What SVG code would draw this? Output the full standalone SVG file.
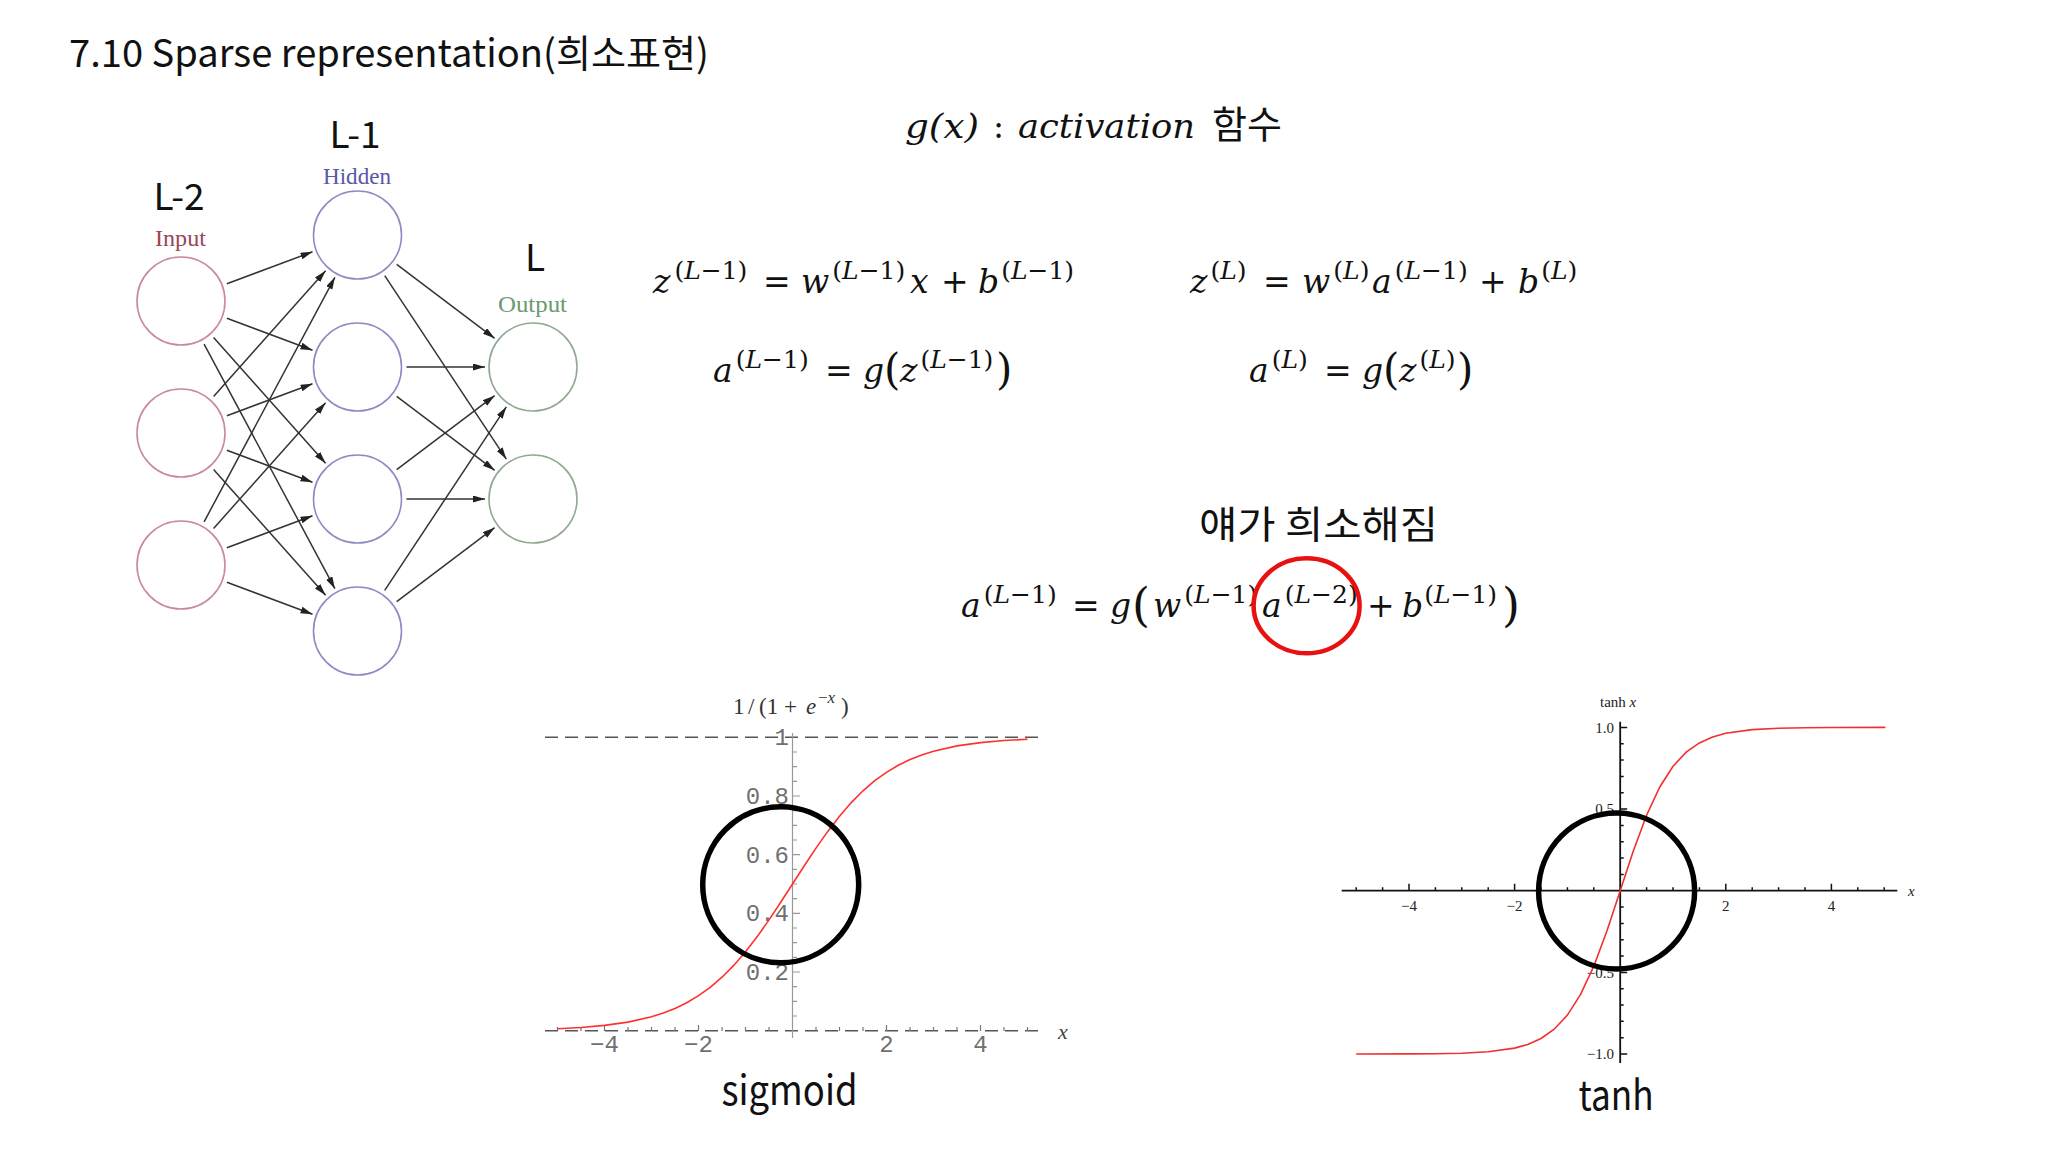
<svg xmlns="http://www.w3.org/2000/svg" width="2048" height="1152" viewBox="0 0 2048 1152">
<defs>
<style>
.sans{font-family:"Noto Sans CJK KR","Noto Sans",sans-serif;fill:#111}
.lbl{font-family:"Liberation Serif","Times New Roman",serif;font-size:23px}
.m{font-family:"DejaVu Serif",serif;font-size:33px;fill:#111}
.i{font-style:italic}
.s{font-size:25px}
.bp{font-size:42px}
.ni{fill:#fff;stroke:#c98a96;stroke-width:1.6}
.nh{fill:#fff;stroke:#8c8cc4;stroke-width:1.6}
.no{fill:#fff;stroke:#90aa90;stroke-width:1.6}
.edge{stroke:#333;stroke-width:1.5;fill:none;marker-end:url(#ah)}
.mono{font-family:"Liberation Mono","DejaVu Sans Mono",monospace;font-size:24px;fill:#707070}
.tl{font-family:"Liberation Serif","Times New Roman",serif;font-size:15px;fill:#222}
.ring{fill:none;stroke:#000;stroke-width:5.5}
</style>
<marker id="ah" markerUnits="userSpaceOnUse" markerWidth="13" markerHeight="8" refX="12" refY="3.5" orient="auto">
<path d="M0,0 L12,3.5 L0,7 z" fill="#222"/>
</marker>
</defs>
<rect width="2048" height="1152" fill="#fff"/>

<text id="title" class="sans" x="69" y="67" font-size="38" textLength="640" lengthAdjust="spacingAndGlyphs">7.10 Sparse representation(희소표현)</text>

<!-- Neural network -->
<g id="layer-labels" class="sans" font-size="37" text-anchor="middle">
<text x="179" y="210">L-2</text>
<text x="355" y="148">L-1</text>
<text x="535" y="271">L</text>
</g>
<text class="lbl" x="180.5" y="245.5" text-anchor="middle" fill="#9a4656" textLength="51" lengthAdjust="spacingAndGlyphs">Input</text>
<text class="lbl" x="357" y="183.5" text-anchor="middle" fill="#5858a8" textLength="68" lengthAdjust="spacingAndGlyphs">Hidden</text>
<text class="lbl" x="532.5" y="311.5" text-anchor="middle" fill="#6a9a70" textLength="69" lengthAdjust="spacingAndGlyphs">Output</text>

<g id="connectors">
<line class="edge" x1="226.9" y1="283.8" x2="312.5" y2="251.8"/>
<line class="edge" x1="226.9" y1="318.2" x2="312.5" y2="350.2"/>
<line class="edge" x1="213.6" y1="337.6" x2="325.6" y2="463.2"/>
<line class="edge" x1="204.1" y1="344.2" x2="334.9" y2="588.7"/>
<line class="edge" x1="213.6" y1="396.4" x2="325.6" y2="270.8"/>
<line class="edge" x1="226.9" y1="415.8" x2="312.5" y2="383.8"/>
<line class="edge" x1="226.9" y1="450.2" x2="312.5" y2="482.2"/>
<line class="edge" x1="213.6" y1="469.6" x2="325.6" y2="595.2"/>
<line class="edge" x1="204.1" y1="521.8" x2="334.9" y2="277.3"/>
<line class="edge" x1="213.6" y1="528.4" x2="325.6" y2="402.8"/>
<line class="edge" x1="226.9" y1="547.8" x2="312.5" y2="515.8"/>
<line class="edge" x1="226.9" y1="582.2" x2="312.5" y2="614.2"/>
<line class="edge" x1="396.7" y1="264.3" x2="494.6" y2="338.3"/>
<line class="edge" x1="384.7" y1="275.7" x2="506.3" y2="459.1"/>
<line class="edge" x1="406.5" y1="367" x2="485" y2="367"/>
<line class="edge" x1="396.7" y1="396.3" x2="494.6" y2="470.3"/>
<line class="edge" x1="396.7" y1="469.7" x2="494.6" y2="395.7"/>
<line class="edge" x1="406.5" y1="499" x2="485" y2="499"/>
<line class="edge" x1="384.7" y1="590.3" x2="506.3" y2="406.9"/>
<line class="edge" x1="396.7" y1="601.7" x2="494.6" y2="527.7"/>
</g>

<g id="input-1"><circle class="ni" cx="181" cy="301" r="44"/></g>
<g id="input-2"><circle class="ni" cx="181" cy="433" r="44"/></g>
<g id="input-3"><circle class="ni" cx="181" cy="565" r="44"/></g>
<g id="hidden-1"><circle class="nh" cx="357.5" cy="235" r="44"/></g>
<g id="hidden-2"><circle class="nh" cx="357.5" cy="367" r="44"/></g>
<g id="hidden-3"><circle class="nh" cx="357.5" cy="499" r="44"/></g>
<g id="hidden-4"><circle class="nh" cx="357.5" cy="631" r="44"/></g>
<g id="output-1"><circle class="no" cx="533" cy="367" r="44"/></g>
<g id="output-2"><circle class="no" cx="533" cy="499" r="44"/></g>

<!-- Equations -->
<g id="activation-def">
<text class="m i" x="905" y="138" font-size="35" textLength="74" lengthAdjust="spacingAndGlyphs">g(x)</text>
<text class="m" x="993" y="138" font-size="35">:</text>
<text class="m i" x="1018" y="138" font-size="35" textLength="177" lengthAdjust="spacingAndGlyphs">activation</text>
<text class="sans" x="1212" y="138" font-size="38">함수</text>
</g>

<g id="eq1"><text class="m">
<tspan class="i" x="653" y="293">z</tspan><tspan class="s" dx="4" y="279">(</tspan><tspan class="s i">L</tspan><tspan class="s">−1)</tspan>
<tspan x="763" y="293">=</tspan>
<tspan class="i" x="801" y="293">w</tspan><tspan class="s" dx="3" y="279">(</tspan><tspan class="s i">L</tspan><tspan class="s">−1)</tspan>
<tspan class="i" x="910" y="293">x</tspan>
<tspan x="941" y="293">+</tspan>
<tspan class="i" x="978" y="293">b</tspan><tspan class="s" dx="2" y="279">(</tspan><tspan class="s i">L</tspan><tspan class="s">−1)</tspan>
</text></g>

<g id="eq2"><text class="m">
<tspan class="i" x="1190" y="293">z</tspan><tspan class="s" dx="3" y="279">(</tspan><tspan class="s i">L</tspan><tspan class="s">)</tspan>
<tspan x="1263" y="293">=</tspan>
<tspan class="i" x="1302" y="293">w</tspan><tspan class="s" dx="3" y="279">(</tspan><tspan class="s i">L</tspan><tspan class="s">)</tspan>
<tspan class="i" x="1372" y="293">a</tspan><tspan class="s" dx="3" y="279">(</tspan><tspan class="s i">L</tspan><tspan class="s">−1)</tspan>
<tspan x="1479" y="293">+</tspan>
<tspan class="i" x="1518" y="293">b</tspan><tspan class="s" dx="2" y="279">(</tspan><tspan class="s i">L</tspan><tspan class="s">)</tspan>
</text></g>

<g id="eq3"><text class="m">
<tspan class="i" x="713" y="381.5">a</tspan><tspan class="s" dx="3" y="367.5">(</tspan><tspan class="s i">L</tspan><tspan class="s">−1)</tspan>
<tspan x="825" y="381.5">=</tspan>
<tspan class="i" x="863" y="381.5">g</tspan><tspan class="bp" x="884" y="383.5">(</tspan>
<tspan class="i" x="900" y="381.5">z</tspan><tspan class="s" dx="3" y="367.5">(</tspan><tspan class="s i">L</tspan><tspan class="s">−1)</tspan>
<tspan class="bp" x="996" y="383.5">)</tspan>
</text></g>

<g id="eq4"><text class="m">
<tspan class="i" x="1249" y="381.5">a</tspan><tspan class="s" dx="3" y="367.5">(</tspan><tspan class="s i">L</tspan><tspan class="s">)</tspan>
<tspan x="1324" y="381.5">=</tspan>
<tspan class="i" x="1362" y="381.5">g</tspan><tspan class="bp" x="1383" y="383.5">(</tspan>
<tspan class="i" x="1399" y="381.5">z</tspan><tspan class="s" dx="3" y="367.5">(</tspan><tspan class="s i">L</tspan><tspan class="s">)</tspan>
<tspan class="bp" x="1457" y="383.5">)</tspan>
</text></g>

<text id="sparse-note" class="sans" x="1199" y="538" font-size="38" textLength="239" lengthAdjust="spacingAndGlyphs">얘가 희소해짐</text>

<g id="eq5"><text class="m">
<tspan class="i" x="961" y="616.5">a</tspan><tspan class="s" dx="3" y="602.5">(</tspan><tspan class="s i">L</tspan><tspan class="s">−1)</tspan>
<tspan x="1072" y="616.5">=</tspan>
<tspan class="i" x="1110" y="616.5">g</tspan><tspan font-size="46" x="1132" y="621">(</tspan>
<tspan class="i" x="1153" y="616.5">w</tspan><tspan class="s" dx="3" y="602.5">(</tspan><tspan class="s i">L</tspan><tspan class="s">−1)</tspan>
<tspan class="i" x="1262" y="616.5">a</tspan><tspan class="s" dx="3" y="602.5">(</tspan><tspan class="s i">L</tspan><tspan class="s">−2)</tspan>
<tspan x="1367" y="616.5">+</tspan>
<tspan class="i" x="1402" y="616.5">b</tspan><tspan class="s" dx="1" y="602.5">(</tspan><tspan class="s i">L</tspan><tspan class="s">−1)</tspan>
<tspan font-size="46" x="1502" y="621">)</tspan>
</text></g>
<ellipse id="red-mark" cx="1306.6" cy="605.8" rx="53" ry="47.5" fill="none" stroke="#e81010" stroke-width="4.5"/>

<!-- Sigmoid plot -->
<g id="sigmoid-plot">
<text font-family="Liberation Serif, serif" font-size="23" fill="#333" y="714"><tspan x="733">1</tspan><tspan x="748">/</tspan><tspan x="759">(1</tspan><tspan x="784">+</tspan><tspan x="806" font-style="italic">e</tspan><tspan x="818" y="703" font-size="17">−<tspan font-style="italic">x</tspan></tspan><tspan x="841" y="714">)</tspan></text>
<line x1="545" y1="737.3" x2="1040" y2="737.3" stroke="#555" stroke-width="1.6" stroke-dasharray="13 7"/>
<line x1="545" y1="1030.7" x2="1040" y2="1030.7" stroke="#555" stroke-width="1.6" stroke-dasharray="13 7"/>
<line x1="792.5" y1="733" x2="792.5" y2="1038" stroke="#999" stroke-width="1.2"/>
<path d="M792.5 1016h4.5M792.5 1001.4h4.5M792.5 986.7h4.5M792.5 972h7.5M792.5 957.4h4.5M792.5 942.7h4.5M792.5 928h4.5M792.5 913.3h7.5M792.5 898.7h4.5M792.5 884h4.5M792.5 869.3h4.5M792.5 854.7h7.5M792.5 840h4.5M792.5 825.3h4.5M792.5 810.7h4.5M792.5 796h7.5M792.5 781.3h4.5M792.5 766.6h4.5M792.5 752h4.5" stroke="#999" stroke-width="1.2"/>
<path d="M557.5 1031v-4M581 1031v-4M604.5 1031v-6M628 1031v-4M651.5 1031v-4M675 1031v-4M698.5 1031v-6M722 1031v-4M745.5 1031v-4M769 1031v-4M816 1031v-4M839.5 1031v-4M863 1031v-4M886.5 1031v-6M910 1031v-4M933.5 1031v-4M957 1031v-4M980.5 1031v-6M1004 1031v-4M1027.5 1031v-4" stroke="#777" stroke-width="1.2"/>
<g class="mono" text-anchor="end">
<text x="789" y="745">1</text>
<text x="789" y="804">0.8</text>
<text x="789" y="862.7">0.6</text>
<text x="789" y="921.4">0.4</text>
<text x="789" y="980">0.2</text>
</g>
<g class="mono" text-anchor="middle">
<text x="604.5" y="1052">−4</text>
<text x="698.5" y="1052">−2</text>
<text x="886.5" y="1052">2</text>
<text x="980.5" y="1052">4</text>
</g>
<text x="1058" y="1039" font-family="Liberation Serif, serif" font-style="italic" font-size="22" fill="#444">x</text>
<polyline fill="none" stroke="#ff3030" stroke-width="1.6" points="557.5,1028.7 581,1027.5 604.5,1025.4 628,1022.1 651.5,1016.8 663.25,1013.1 675,1008.4 686.75,1002.7 698.5,995.7 710.25,987.3 722,977.2 733.75,965.4 745.5,951.8 757.25,936.6 769,919.9 780.75,902.25 792.5,884 804.25,865.75 816,848.1 827.75,831.4 839.5,816.2 851.25,802.6 863,790.8 874.75,780.7 886.5,772.3 898.25,765.3 910,759.6 921.75,754.9 933.5,751.2 957,745.9 980.5,742.6 1004,740.5 1027.5,739.3"/>
<circle class="ring" cx="780.7" cy="884.7" r="78"/>
<text class="sans" x="789.5" y="1105" font-size="41" text-anchor="middle" textLength="136" lengthAdjust="spacingAndGlyphs">sigmoid</text>
</g>

<!-- Tanh plot -->
<g id="tanh-plot">
<text class="tl" x="1600" y="707" font-size="14">tanh <tspan font-style="italic">x</tspan></text>
<line x1="1341.7" y1="890.7" x2="1897.3" y2="890.7" stroke="#111" stroke-width="1.8"/>
<line x1="1620.2" y1="721.7" x2="1620.2" y2="1063" stroke="#111" stroke-width="1.8"/>
<path d="M1620.2 874.4h3.5M1620.2 858h3.5M1620.2 841.7h3.5M1620.2 825.4h3.5M1620.2 809h7M1620.2 792.7h3.5M1620.2 776.4h3.5M1620.2 760.1h3.5M1620.2 743.7h3.5M1620.2 727.4h7M1620.2 907h3.5M1620.2 923.4h3.5M1620.2 939.7h3.5M1620.2 956h3.5M1620.2 972.4h7M1620.2 988.7h3.5M1620.2 1005h3.5M1620.2 1021.3h3.5M1620.2 1037.7h3.5M1620.2 1054h7" stroke="#111" stroke-width="1.5"/>
<path d="M1356.2 890.7v-3.5M1382.6 890.7v-3.5M1409 890.7v-7M1435.4 890.7v-3.5M1461.8 890.7v-3.5M1488.2 890.7v-3.5M1514.6 890.7v-7M1541 890.7v-3.5M1567.4 890.7v-3.5M1593.8 890.7v-3.5M1646.6 890.7v-3.5M1673 890.7v-3.5M1699.4 890.7v-3.5M1725.8 890.7v-7M1752.2 890.7v-3.5M1778.6 890.7v-3.5M1805 890.7v-3.5M1831.4 890.7v-7M1857.8 890.7v-3.5M1884.2 890.7v-3.5" stroke="#111" stroke-width="1.5"/>
<g class="tl" text-anchor="end" fill="#223">
<text x="1614" y="732.5">1.0</text>
<text x="1614" y="814">0.5</text>
<text x="1614" y="977.5">−0.5</text>
<text x="1614" y="1059">−1.0</text>
</g>
<g class="tl" text-anchor="middle">
<text x="1409" y="911">−4</text>
<text x="1514.6" y="911">−2</text>
<text x="1725.8" y="911">2</text>
<text x="1831.4" y="911">4</text>
</g>
<text class="tl" x="1908" y="896" font-style="italic" font-size="16">x</text>
<polyline fill="none" stroke="#f03030" stroke-width="1.6" points="1356.2,1054 1409,1053.9 1435.4,1053.7 1461.8,1053.2 1488.2,1051.8 1514.6,1048.1 1527.8,1044.4 1541,1038.5 1554.2,1029.2 1567.4,1015.1 1580.6,994.4 1593.8,966.2 1607,930.7 1620.2,890.7 1633.4,850.7 1646.6,815.2 1659.8,787 1673,766.3 1686.2,752.2 1699.4,742.9 1712.6,737 1725.8,733.3 1752.2,729.6 1778.6,728.2 1805,727.7 1831.4,727.5 1885.4,727.4"/>
<circle class="ring" cx="1616.6" cy="891" r="78"/>
<text class="sans" x="1616" y="1110" font-size="41" text-anchor="middle" textLength="75" lengthAdjust="spacingAndGlyphs">tanh</text>
</g>
</svg>
